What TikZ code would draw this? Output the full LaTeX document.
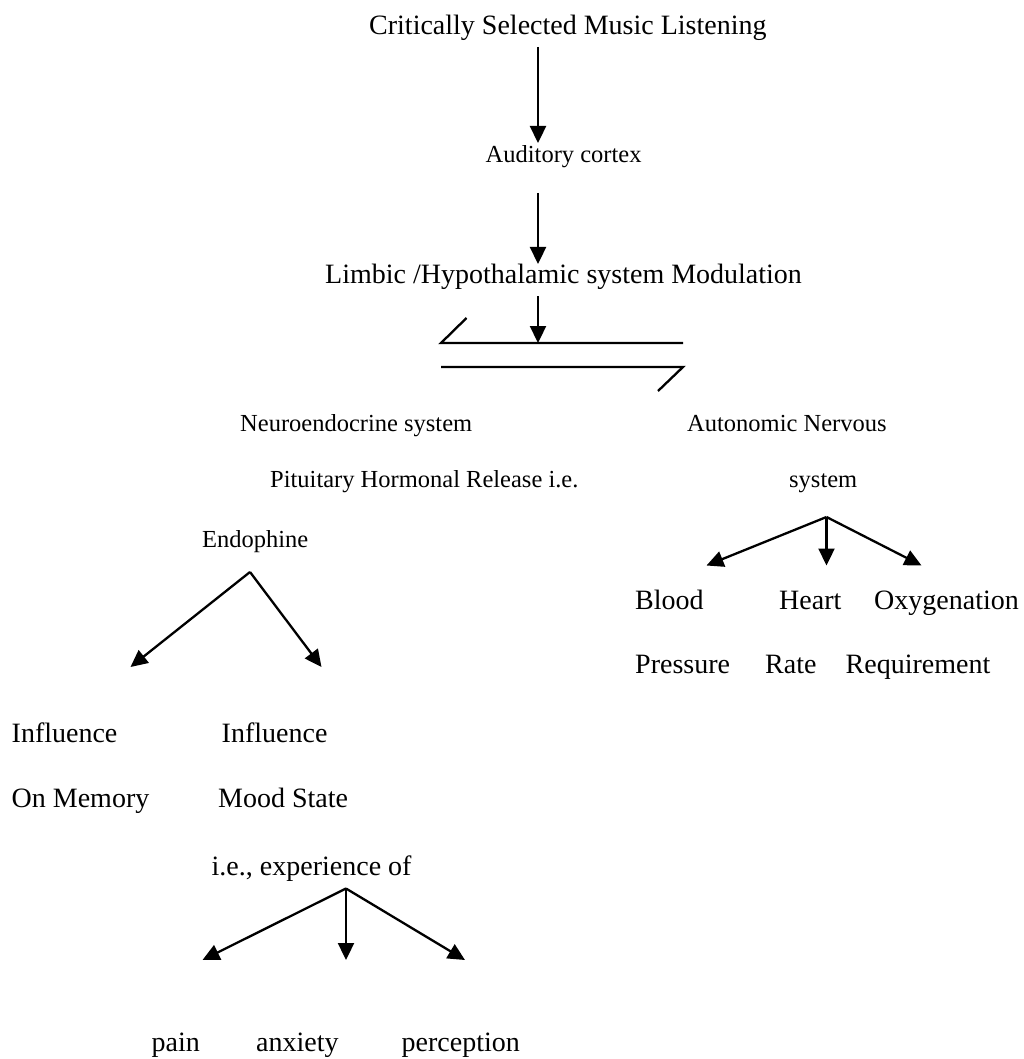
\documentclass[tikz,border=0pt]{standalone}
\usepackage{fontspec}
\setmainfont{Liberation Serif}
\usetikzlibrary{arrows.meta}
\begin{document}
\begin{tikzpicture}[x=1pt,y=-1pt,
  big/.style={anchor=base west,inner sep=0pt,font=\fontsize{28}{30}\selectfont},
  small/.style={anchor=base west,inner sep=0pt,font=\fontsize{24.5}{27}\selectfont},
  arr/.style={line width=2.3pt,-{Triangle[length=17pt,width=16pt]}},
  ln/.style={line width=2.3pt}]
\useasboundingbox (0,0) rectangle (1023,1059);
% texts
\node[big]   (title) at (369,35)   {Critically Selected Music Listening};
\node[small] (aud)   at (485.5,163) {Auditory cortex};
\node[big]   (limb)  at (325,283)  {Limbic /Hypothalamic system Modulation};
\node[small] (neuro) at (240,431)  {Neuroendocrine system};
\node[small] (auto)  at (687,431)  {Autonomic Nervous};
\node[small] (pit)   at (270,487)  {Pituitary Hormonal Release i.e.};
\node[small] (sys)   at (789,487)  {system};
\node[small] (endo)  at (202,547)  {Endophine};
\node[big]   (bl)    at (635,609)  {Blood};
\node[big]   (he)    at (779,609)  {Heart};
\node[big]   (ox)    at (874,609)  {Oxygenation};
\node[big]   (pr)    at (635,673)  {Pressure};
\node[big]   (ra)    at (765,673)  {Rate};
\node[big]   (re)    at (845.5,673) {Requirement};
\node[big]   (inf1)  at (11.5,742) {Influence};
\node[big]   (inf2)  at (221.5,742) {Influence};
\node[big]   (mem)   at (11.5,807) {On Memory};
\node[big]   (mood)  at (218,807)  {Mood State};
\node[big]   (exp)   at (211.5,875) {i.e., experience of};
\node[big]   (pain)  at (151.5,1051) {pain};
\node[big]   (anx)   at (256,1051) {anxiety};
\node[big]   (perc)  at (401.5,1051) {perception};
% connector points
\coordinate (a1s) at (538,47);   \coordinate (a1e) at (538,143);
\coordinate (a2s) at (538,193);  \coordinate (a2e) at (538,264);
\coordinate (a3s) at (538,296);  \coordinate (a3e) at (538,343);
\coordinate (u1) at (441,343); \coordinate (u2) at (683,343); \coordinate (u0) at (466.5,318);
\coordinate (d1) at (441,367); \coordinate (d2) at (683,367); \coordinate (d0) at (658,391);
\coordinate (eo) at (250,572);
\coordinate (el) at (130.5,667); \coordinate (er) at (321.5,667);
\coordinate (ao) at (826.5,517);
\coordinate (al) at (706.5,565.5); \coordinate (am) at (826.5,565.5); \coordinate (ar) at (921.5,565.5);
\coordinate (xo) at (346,888.5);
\coordinate (xl) at (202.5,960); \coordinate (xm) at (346,960); \coordinate (xr) at (465,960);
% connectors
\draw[arr] (a1s) -- (a1e);
\draw[arr] (a2s) -- (a2e);
\draw[ln] (u0) -- (u1) -- (u2);
\draw[ln] (d1) -- (d2) -- (d0);
\draw[arr] (a3s) -- (a3e);
\draw[arr] (eo) -- (el);
\draw[arr] (eo) -- (er);
\draw[arr] (ao) -- (al);
\draw[arr] (ao) -- (am);
\draw[arr] (ao) -- (ar);
\draw[arr] (xo) -- (xl);
\draw[arr] (xo) -- (xm);
\draw[arr] (xo) -- (xr);
\end{tikzpicture}
\end{document}
